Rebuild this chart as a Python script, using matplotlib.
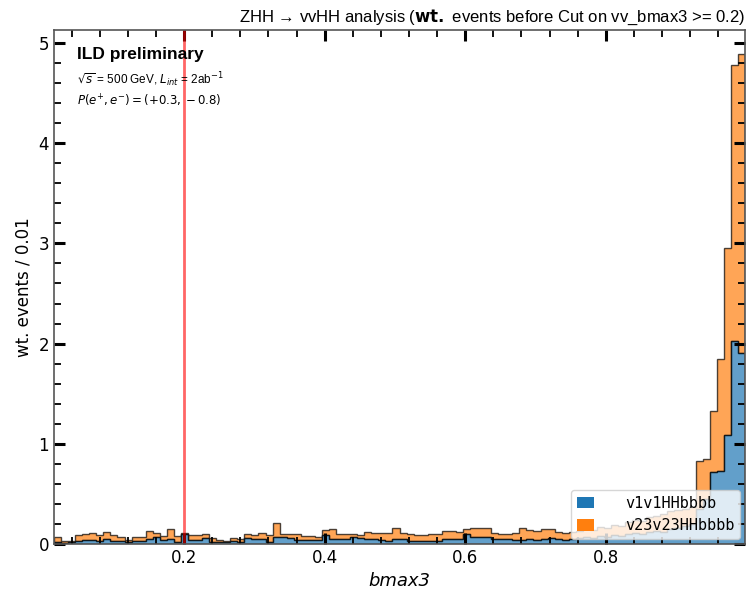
import numpy as np
import matplotlib
matplotlib.use("Agg")
import matplotlib.pyplot as plt
from matplotlib.patches import Patch
from matplotlib.ticker import MultipleLocator

# bmax3 histogram range and binning (98 bins of ~0.01)
x_min, x_max = 0.015, 0.998
n_bins = 98

labels = ["v1v1HHbbbb", "v23v23HHbbbb"]
colors = ["#1f77b4", "#ff7f0e"]

# weighted events per bin, v1v1HHbbbb
v1v1 = [
    0.02, 0.01, 0.02, 0.03, 0.04, 0.04, 0.03, 0.05, 0.03, 0.03,
    0.02, 0.03, 0.03, 0.05, 0.07, 0.04, 0.05, 0.02, 0.10, 0.04,
    0.04, 0.06, 0.02, 0.02, 0.02, 0.03, 0.02, 0.06, 0.05, 0.05,
    0.02, 0.07, 0.07, 0.06, 0.04, 0.04, 0.04, 0.04, 0.09, 0.05,
    0.05, 0.05, 0.07, 0.06, 0.05, 0.05, 0.04, 0.03, 0.05, 0.05,
    0.03, 0.03, 0.03, 0.03, 0.03, 0.05, 0.05, 0.05, 0.10, 0.07,
    0.07, 0.07, 0.05, 0.05, 0.05, 0.04, 0.04, 0.05, 0.04, 0.05,
    0.06, 0.05, 0.04, 0.05, 0.06, 0.07, 0.06, 0.08, 0.07, 0.09,
    0.08, 0.10, 0.11, 0.10, 0.12, 0.13, 0.12, 0.15, 0.16, 0.18,
    0.20, 0.35, 0.45, 0.72, 0.73, 1.09, 2.03, 1.91,
]

# weighted events per bin, v23v23HHbbbb
v23v23 = [
    0.05, 0.02, 0.01, 0.06, 0.06, 0.07, 0.06, 0.07, 0.06, 0.04,
    0.02, 0.04, 0.04, 0.08, 0.04, 0.04, 0.10, 0.06, 0.01, 0.05,
    0.05, 0.04, 0.04, 0.02, 0.01, 0.03, 0.03, 0.04, 0.04, 0.06,
    0.07, 0.14, 0.03, 0.04, 0.06, 0.04, 0.04, 0.03, 0.05, 0.10,
    0.05, 0.05, 0.03, 0.03, 0.07, 0.06, 0.07, 0.08, 0.11, 0.06,
    0.07, 0.06, 0.06, 0.07, 0.07, 0.08, 0.08, 0.07, 0.05, 0.09,
    0.09, 0.09, 0.06, 0.05, 0.05, 0.07, 0.12, 0.09, 0.09, 0.10,
    0.09, 0.07, 0.07, 0.07, 0.07, 0.08, 0.08, 0.09, 0.09, 0.10,
    0.10, 0.12, 0.13, 0.13, 0.15, 0.15, 0.18, 0.18, 0.18, 0.17,
    0.17, 0.48, 0.40, 0.61, 1.12, 1.86, 2.75, 2.98,
]

cut_value = 0.2

edges = np.linspace(x_min, x_max, n_bins + 1)
centers = 0.5 * (edges[:-1] + edges[1:])

fig = plt.figure(figsize=(7.48, 5.89), dpi=100)
ax = fig.add_axes([0.0722, 0.0764, 0.9238, 0.8727])

ax.hist([centers, centers], bins=edges, weights=[v1v1, v23v23],
        stacked=True, histtype="stepfilled", color=colors,
        alpha=0.7, edgecolor="black", linewidth=1.0)

ax.axvline(cut_value, color="red", alpha=0.6, linewidth=2)

ax.set_xlim(x_min, x_max)
ax.set_ylim(0, 5.13)

ax.xaxis.set_major_locator(MultipleLocator(0.2))
ax.xaxis.set_minor_locator(MultipleLocator(0.04))
ax.yaxis.set_major_locator(MultipleLocator(1))
ax.yaxis.set_minor_locator(MultipleLocator(0.2))
ax.tick_params(which="both", direction="in", top=True, right=True,
               labelsize=12)
ax.tick_params(which="major", length=8, width=2.2)
ax.tick_params(which="minor", length=5, width=1.3)
for sp in ax.spines.values():
    sp.set_color("#555555")
    sp.set_linewidth(1.2)

ax.set_xlabel("bmax3", fontsize=13, style="italic")
ax.set_ylabel("wt. events / 0.01", fontsize=12)
ax.set_title(r"ZHH → vvHH analysis ($\bf{wt.}$ events before Cut on vv_bmax3 >= 0.2)",
             loc="right", fontsize=12, family=["Liberation Sans", "DejaVu Sans"], pad=6)

ax.text(0.033, 0.967, "ILD preliminary", transform=ax.transAxes,
        fontsize=12.5, fontweight="bold", family="Liberation Sans",
        va="top", ha="left")
ax.text(0.033, 0.922, r"$\sqrt{s}$ = 500 GeV, $L_{int}$ = 2ab$^{-1}$",
        transform=ax.transAxes, fontsize=8.5, family="Liberation Sans",
        va="top", ha="left")
ax.text(0.033, 0.878, r"$P(e^{+}, e^{-}) = (+0.3, -0.8)$",
        transform=ax.transAxes, fontsize=8.5, va="top", ha="left")

handles = [Patch(facecolor=c) for c in colors]
ax.legend(handles, labels, loc="lower right", prop={"family": "DejaVu Sans Mono", "size": 11},
          handlelength=1.1, handleheight=0.8, handletextpad=2.0,
          framealpha=0.8, borderaxespad=0.3)

fig.savefig("out.png", dpi=100)
